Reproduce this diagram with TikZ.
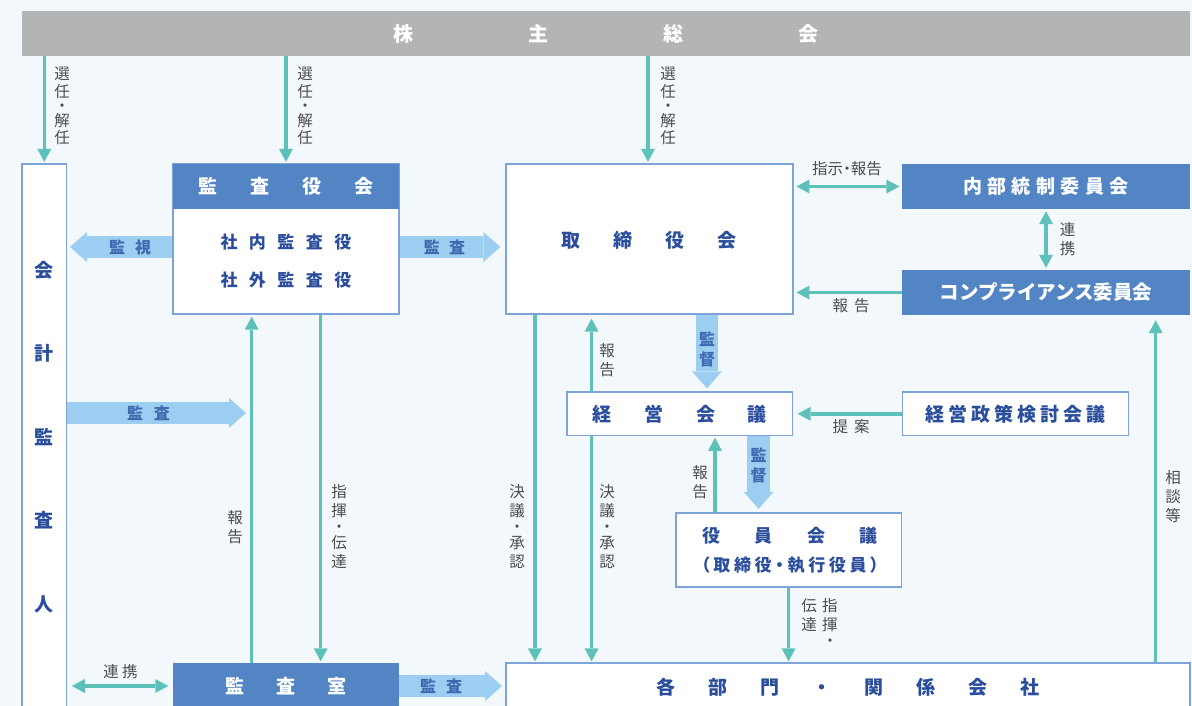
\documentclass[tikz,border=0pt]{standalone}
\usepackage{fontspec}
\setmainfont{Noto Sans CJK JP}
\newfontfamily\jpp[RawFeature=+palt]{Noto Sans CJK JP}
\usetikzlibrary{arrows.meta}
\definecolor{cBg}{HTML}{F3F8FC}
\definecolor{cBar}{HTML}{B4B4B4}
\definecolor{cDark}{HTML}{5385C5}
\definecolor{cBorder}{HTML}{7DA3D9}
\definecolor{cTeal}{HTML}{5EC1B9}
\definecolor{cLight}{HTML}{9CCEF1}
\definecolor{cText}{HTML}{2A4D9C}
\definecolor{cGray}{HTML}{4D4D4D}
\definecolor{cFat}{HTML}{4169B0}
\makeatletter
\newcommand\spread[2]{\begingroup\def\spr@gap{\hspace*{#1}}\let\spr@sep\relax\@tfor\spr@c:=#2\do{\spr@sep\spr@c\let\spr@sep\spr@gap}\endgroup}
\makeatother
\pgfdeclarelayer{bg}
\pgfsetlayers{bg,main}
\tikzset{
  box/.style={draw=cBorder, line width=1.3pt, fill=white, inner sep=0pt, text=cText, font=\bfseries\fontsize{19}{22}\selectfont},
  dbox/.style={fill=cDark, inner sep=0pt, text=white, font=\bfseries\fontsize{19}{22}\selectfont},
  btxt/.style={inner sep=0pt, text=cText, font=\bfseries\fontsize{19}{22}\selectfont},
  tarrow/.style={draw=cTeal, line width=3.4pt, -{Triangle[width=14pt,length=13pt,line width=0pt]}},
  tdarrow/.style={draw=cTeal, line width=3.4pt, {Triangle[width=14pt,length=13pt,line width=0pt]}-{Triangle[width=14pt,length=13pt,line width=0pt]}},
  fat/.style={draw=cLight, line width=22.5pt, -{Triangle[width=30pt,length=17pt,line width=0pt]}},
  lbl/.style={inner sep=0pt, text=cGray, align=center, font=\fontsize{15.5}{19}\selectfont},
  lblA/.style={lbl, font=\fontsize{15.5}{17.7}\selectfont},
  flbl/.style={inner sep=0pt, text=cFat, align=center, font=\bfseries\fontsize{16}{20}\selectfont},
}
\begin{document}
\begin{tikzpicture}[x=1pt,y=-1pt]
\useasboundingbox (0,0) rectangle (1192,706);
\begin{pgfonlayer}{bg}
\fill[cBg] (0,0) rectangle (1192,706);
\end{pgfonlayer}
\begin{scope}
\clip (0,0) rectangle (1192,706);
% ---------- nodes ----------
\node[fill=cBar, minimum width=1168pt, minimum height=45pt, inner sep=0pt, text=white, font=\bfseries\fontsize{20}{24}\selectfont] (soukai) at (606,33.5) {\spread{115pt}{株主総会}};

\node[box, minimum width=44.7pt, minimum height=566pt] (kaikei) at (44.3,447) {};
\node[btxt, align=center, font=\bfseries\fontsize{19}{83.5}\selectfont] (kaikeitxt) at (44.3,437) {会\\計\\監\\査\\人};

\node[box, minimum width=226pt, minimum height=150pt] (kansayaku) at (286,239) {};
\node[dbox, minimum width=226pt, minimum height=45pt, anchor=north] (kansahead) at (kansayaku.north) {\spread{32.7pt}{監査役会}};
\node[btxt, font=\bfseries\fontsize{17}{20}\selectfont] (shanai) at (286,242) {\spread{11.5pt}{社内監査役}};
\node[btxt, font=\bfseries\fontsize{17}{20}\selectfont] (shagai) at (286,280) {\spread{11.5pt}{社外監査役}};

\node[box, minimum width=287pt, minimum height=150pt] (torishimari) at (649.5,239) {};
\node[btxt] (torishimaritxt) at (649,240) {\spread{33pt}{取締役会}};

\node[dbox, minimum width=288pt, minimum height=45pt] (naibu) at (1046,186.5) {\spread{5.5pt}{内部統制委員会}};
\node[dbox, minimum width=288pt, minimum height=45pt, font=\bfseries\fontsize{19.5}{22}\selectfont] (comp) at (1046,292.5) {コンプライアンス委員会};

\node[box, minimum width=225.6pt, minimum height=43.7pt] (keiei) at (679.8,413.8) {\spread{32.7pt}{経営会議}};
\node[box, minimum width=225.6pt, minimum height=43.7pt] (seisaku) at (1015.6,413.8) {\spread{4pt}{経営政策検討会議}};

\node[box, minimum width=225.5pt, minimum height=74pt] (yakuin) at (788.8,550) {};
\node[btxt, font=\bfseries\fontsize{18}{22}\selectfont] (yakuin1) at (790,536) {\spread{34.2pt}{役員会議}};
\node[btxt, font=\jpp\bfseries\fontsize{17}{20}\selectfont] (yakuin2) at (790,565) {\spread{3.7pt}{（取締役・執行役員）}};

\node[box, minimum width=684pt, minimum height=48pt] (kakubu) at (848,687) {\spread{33pt}{各部門・関係会社}};
\node[dbox, minimum width=226pt, minimum height=46pt] (kansashitsu) at (286,686) {\spread{32.3pt}{監査室}};

\coordinate (kaend) at (246,413);

% ---------- connectors ----------
\begin{pgfonlayer}{bg}
\draw[tarrow, shorten >=1.5pt] (kaikei.north |- soukai.south) -- (kaikei.north);
\draw[tarrow, shorten >=1.5pt] (kansayaku.north |- soukai.south) -- (kansayaku.north);
\draw[tarrow, shorten >=1.5pt] (soukai.south -| 648,0) -- (torishimari.north -| 648,0);

\draw[tdarrow, shorten <=2.8pt, shorten >=2.4pt] (torishimari.east |- naibu.west) -- (naibu.west);
\draw[tdarrow, shorten <=2pt, shorten >=2pt] (naibu.south) -- (comp.north);
\draw[tarrow, shorten >=2.8pt] (comp.west) -- (torishimari.east |- comp.west);

\draw[fat, shorten >=3pt] (torishimari.south -| 707,0) -- (keiei.north -| 707,0);
\draw[tarrow, shorten >=4pt] (keiei.north -| 591.6,0) -- (torishimari.south -| 591.6,0);
\draw[tarrow, shorten >=4.4pt] (seisaku.west) -- (keiei.east |- seisaku.west);

\draw[tarrow, shorten >=1pt] (torishimari.south -| 535,0) -- (kakubu.north -| 535,0);
\draw[tarrow, shorten >=1pt] (keiei.south -| 591.6,0) -- (kakubu.north -| 591.6,0);
\draw[tarrow, shorten >=1.5pt] (yakuin.north -| 715,0) -- (keiei.south -| 715,0);
\draw[fat, shorten >=3.5pt] (keiei.south -| 758.6,0) -- (yakuin.north -| 758.6,0);
\draw[tarrow, shorten >=1pt] (yakuin.south -| 788.6,0) -- (kakubu.north -| 788.6,0);
\draw[tarrow, shorten >=5pt] (kakubu.north -| 1155.7,0) -- (comp.south -| 1155.7,0);

\draw[tarrow, shorten >=2pt] (kansashitsu.north -| 251.7,0) -- (kansayaku.south -| 251.7,0);
\draw[tarrow, shorten >=1.5pt] (kansayaku.south -| 320.7,0) -- (kansashitsu.north -| 320.7,0);
\draw[tdarrow, shorten <=4.5pt, shorten >=4.5pt] (kaikei.east |- kansashitsu.west) -- (kansashitsu.west);

\draw[fat, shorten >=2.6pt] (kansayaku.west |- 0,247) -- (kaikei.east |- 0,247);
\draw[fat, shorten >=5pt] (kansayaku.east |- 0,247) -- (torishimari.west |- 0,247);
\draw[fat] (kaikei.east |- kaend) -- (kaend);
\draw[fat, shorten >=3.3pt] (kansashitsu.east) -- (kakubu.west |- kansashitsu.east);
\end{pgfonlayer}

% ---------- labels ----------
\node[lblA] (l1) at (62,106) {選\\任\\[-3.4pt]・\\[-3.4pt]解\\任};
\node[lblA] (l2) at (305,106) {選\\任\\[-3.4pt]・\\[-3.4pt]解\\任};
\node[lblA] (l3) at (668,106) {選\\任\\[-3.4pt]・\\[-3.4pt]解\\任};
\node[lbl, font=\jpp\fontsize{15.5}{19}\selectfont] (l4) at (847,169) {指示・報告};
\node[lbl] (l5) at (1067.5,239.5) {連\\携};
\node[lbl] (l6) at (851,306) {\spread{6pt}{報告}};
\node[flbl] (l7) at (707,349) {監\\督};
\node[lbl] (l8) at (607,360) {報\\告};
\node[lbl] (l9) at (851,427) {\spread{6pt}{提案}};
\node[lbl] (l10) at (517,526.7) {決\\議\\[-3pt]・\\[-3pt]承\\認};
\node[lbl] (l11) at (607,526.7) {決\\議\\[-3pt]・\\[-3pt]承\\認};
\node[lbl] (l12) at (700,482) {報\\告};
\node[flbl] (l13) at (758.6,465) {監\\督};
\node[lbl] (l14) at (819.5,625.6) {\begin{tabular}{@{}c@{\hspace{5.5pt}}c@{}}伝&指\\達&揮\\[-3pt]&・\end{tabular}};
\node[lbl] (l15) at (1173,496.7) {相\\談\\等};
\node[lbl] (l16) at (235,527) {報\\告};
\node[lbl] (l17) at (339,527) {指\\揮\\[-3pt]・\\[-3pt]伝\\達};
\node[lbl] (l18) at (120.5,671.7) {\spread{3.5pt}{連携}};
\node[flbl] (f1) at (130,247) {\spread{10pt}{監視}};
\node[flbl] (f2) at (444.5,247) {\spread{9.5pt}{監査}};
\node[flbl] (f3) at (148.5,413) {\spread{10.7pt}{監査}};
\node[flbl] (f4) at (441,686) {\spread{10pt}{監査}};
\end{scope}
\end{tikzpicture}
\end{document}
